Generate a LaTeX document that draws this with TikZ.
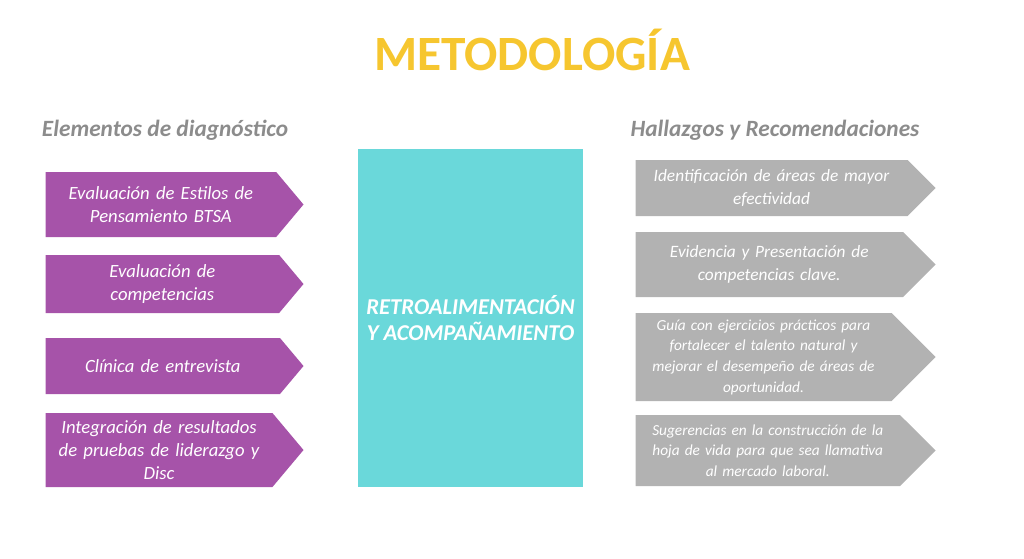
\documentclass[tikz,border=0pt]{standalone}
\usepackage{fontspec}
\setmainfont{Carlito}
\usetikzlibrary{shapes.symbols}
\definecolor{titleyellow}{HTML}{F6C62F}
\definecolor{leftpurple}{HTML}{A653A9}
\definecolor{boxcyan}{HTML}{6AD8DA}
\definecolor{rightgray}{HTML}{B2B2B2}
\definecolor{headgray}{HTML}{8C8C8C}
\tikzset{every picture/.style={line width=0.75pt}}
\tikzset{
  leftarrow/.style={signal, signal to=east, signal pointer angle=100, fill=leftpurple,
    text=white, font=\itshape\fontsize{14}{17.5}\selectfont, align=center, anchor=west,
    minimum width=193.5pt, inner sep=0pt, text width=162pt},
  rightarrow/.style={signal, signal to=east, signal pointer angle=90, fill=rightgray,
    text=white, font=\itshape\fontsize{13}{17}\selectfont, align=center, anchor=west,
    minimum width=225pt, inner sep=0pt, text width=185pt},
  heading/.style={text=headgray, font=\bfseries\itshape\fontsize{17.5}{20}\selectfont}
}
\begin{document}
\begin{tikzpicture}[x=0.75pt,y=-0.75pt]
\useasboundingbox (0,0) rectangle (1024,558);

% Title
\node (title) at (532,50) {\textcolor{titleyellow}{\bfseries\fontsize{37}{40}\selectfont METODOLOGÍA}};

% Headings
\node[heading] (lefthead) at (165,130) {Elementos de diagnóstico};
\node[heading] (righthead) at (775,130) {Hallazgos y Recomendaciones};

% Left arrows
\node[leftarrow, minimum height=48.75pt] (eval) at (45,204.5) {Evaluación de Estilos de\\Pensamiento BTSA};
\node[leftarrow, minimum height=43.5pt] (comp) at (45,284) {Evaluación de\\competencias};
\node[leftarrow, minimum height=42pt] (clin) at (45,366) {Clínica de entrevista};
\node[leftarrow, minimum height=55.5pt] (integ) at (45,450) {Integración de resultados\\de pruebas de liderazgo y\\Disc};

% Center box
\node[fill=boxcyan, minimum width=168.75pt, minimum height=253.5pt, inner sep=0pt,
  text=white, font=\bfseries\itshape\fontsize{17}{20}\selectfont, align=center]
  (center) at (470.5,318) {RETROALIMENTACIÓN\\Y ACOMPAÑAMIENTO};

% Right arrows
\node[rightarrow, minimum height=42pt] (ident) at (635,188) {Identificación de áreas de mayor\\efectividad};
\node[rightarrow, minimum height=48.75pt] (evid) at (635,264.5) {Evidencia y Presentación de\\competencias clave.};
\node[rightarrow, minimum height=66pt, font=\itshape\fontsize{11.5}{15.5}\selectfont] (guia) at (635,357) {Guía con ejercicios prácticos para\\fortalecer el talento natural y\\mejorar el desempeño de áreas de\\oportunidad.};
\node[rightarrow, minimum height=53.25pt, font=\itshape\fontsize{11.5}{15.5}\selectfont] (suger) at (635,450.5) {Sugerencias en la construcción de la\\hoja de vida para que sea llamativa\\al mercado laboral.};
\end{tikzpicture}
\end{document}
